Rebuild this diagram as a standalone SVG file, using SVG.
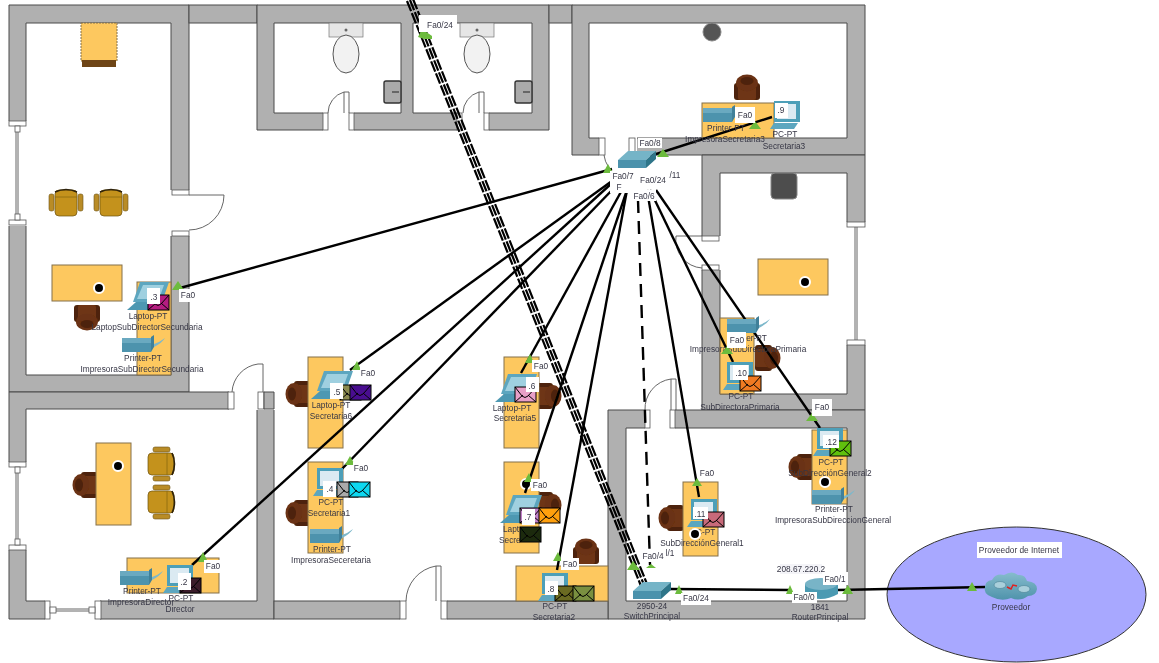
<svg xmlns="http://www.w3.org/2000/svg" width="1159" height="663" viewBox="0 0 1159 663">
<style>
text{font-family:"Liberation Sans",Arial,sans-serif;font-size:8.3px;fill:#363645;text-anchor:middle}
.wall{fill:#b0b0b0;stroke:#4a4a4a;stroke-width:1;fill-rule:evenodd}
.cut{fill:#fff;stroke:none}
.jamb{fill:#fff;stroke:#555;stroke-width:.8}
.leaf{fill:none;stroke:#555;stroke-width:.9}
.tbl{fill:#fdc85f;stroke:#84704a;stroke-width:1}
.lnk{fill:none;stroke:#000;stroke-width:2.4}
.trunk{fill:none;stroke:#000;stroke-width:2.2;stroke-dasharray:11 2}
.tri{fill:#6cbb3c}
.lb{fill:#fff}
.dot{fill:#000;stroke:#fff;stroke-width:2}
.env{stroke:#000;stroke-width:1}
.envl{fill:none;stroke:#000;stroke-width:1}
</style>
<defs>
<filter id="soft" x="0" y="0" width="100%" height="100%"><feGaussianBlur stdDeviation="0.35"/></filter>
<linearGradient id="cl" x1="0" y1="0" x2="0" y2="1"><stop offset="0" stop-color="#86bccd"/><stop offset="1" stop-color="#4f93ab"/></linearGradient>
<g id="laptop"><path d="M13 0H42L35 20H6Z" fill="#5da6bf"/><path d="M16 3H37L32 17H10Z" fill="#9fd0e0"/><path d="M0 28L9 20H35L27 28Z" fill="#4e98b2"/></g>
<g id="pc"><rect x="4" y="0" width="26" height="21" fill="#4e9fb8"/><rect x="7" y="3" width="19" height="15" fill="#dbeaf2"/><path d="M0 28L4 22H28L24 28Z" fill="#5ba6bf"/></g>
<g id="printer"><rect x="0" y="3" width="29" height="14" fill="#4e93ad"/><rect x="0" y="3" width="29" height="5" fill="#6aa9c0"/><path d="M29 2L32 0V12L29 17Z" fill="#3f8099"/><path d="M32 9Q38 7 43 3Q40 8 32 12Z" fill="#7db8cb"/></g>
<g id="switch"><path d="M0 9L10 0H38L28 9Z" fill="#74b4c7"/><path d="M0 9H28V17H0Z" fill="#4b92ac"/><path d="M28 9L38 0V8L28 17Z" fill="#2f7489"/></g>
<g id="env"><rect width="21" height="15" class="env" fill="inherit"/><path d="M0 0L7 9Q10 12 13 9L21 0M0 15L8 8M21 15L13 8" class="envl"/></g>
<g id="bch"><rect x="-13" y="-8" width="26" height="17" rx="3" fill="#4e2408"/><rect x="-9" y="-8" width="18" height="16" rx="2" fill="#6e3614"/><ellipse cx="0" cy="9" rx="11" ry="8.5" fill="#6b3212"/><ellipse cx="0" cy="11" rx="6.5" ry="4" fill="#4e2208"/></g>
<g id="gch"><rect x="-17" y="-8" width="5" height="17" rx="2" fill="#b98c28" stroke="#6b5010" stroke-width=".6"/><rect x="12" y="-8" width="5" height="17" rx="2" fill="#b98c28" stroke="#6b5010" stroke-width=".6"/><rect x="-11" y="-12" width="22" height="26" rx="4" fill="#c4921c" stroke="#6b5010" stroke-width=".7"/><path d="M-11 -5H11" stroke="#8a6a14" stroke-width=".8"/><path d="M-11 -10Q0 -15 11 -10" fill="none" stroke="#2e2208" stroke-width="1.6"/></g>
</defs>
<g filter="url(#soft)">
<rect width="1159" height="663" fill="#fff"/>
<g id="floorplan">
<path class="wall" d="M9 5H189V392H9ZM26 23H171V375H26Z"/>
<rect class="wall" x="189" y="5" width="68" height="18"/>
<path class="wall" d="M257 5H549V130H257ZM274 23H401V113H274ZM413 23H532V113H413Z"/>
<rect class="wall" x="549" y="5" width="23" height="18"/>
<path class="wall" d="M572 5H865V155H572ZM589 23H847V138H589Z"/>
<path class="wall" d="M702 155H865V410H702ZM720 173H847V394H720Z"/>
<path class="wall" d="M608 410H865V619H608ZM626 428H847V601H626Z"/>
<path class="wall" d="M9 392H274V619H9ZM26 409H257V601H26Z"/>
<rect class="wall" x="274" y="601" width="334" height="18"/>

<rect class="cut" x="8" y="121" width="19" height="105"/><rect class="jamb" x="9" y="121" width="17" height="5"/><rect class="jamb" x="9" y="220" width="17" height="5"/><rect class="jamb" x="15" y="126" width="5" height="6"/><rect class="jamb" x="15" y="214" width="5" height="6"/><path class="leaf" d="M16 132V214M18 132V214"/>
<rect class="cut" x="8" y="462" width="19" height="88"/><rect class="jamb" x="9" y="462" width="17" height="5"/><rect class="jamb" x="9" y="545" width="17" height="5"/><rect class="jamb" x="15" y="467" width="5" height="6"/><rect class="jamb" x="15" y="539" width="5" height="6"/><path class="leaf" d="M16 473V539M18 473V539"/>
<rect class="cut" x="846" y="222" width="20" height="123"/><rect class="jamb" x="847" y="222" width="18" height="5"/><rect class="jamb" x="847" y="340" width="18" height="5"/><path class="leaf" d="M855 227V340M857 227V340"/>
<rect class="cut" x="170" y="190" width="20" height="46"/><rect class="jamb" x="172" y="190" width="17" height="5"/><rect class="jamb" x="172" y="231" width="17" height="5"/><path class="leaf" d="M189 195H224A35 35 0 0 1 189 230"/>
<rect class="cut" x="45" y="600" width="55" height="20"/><rect class="jamb" x="45" y="601" width="5" height="18"/><rect class="jamb" x="95" y="601" width="6" height="18"/><rect class="jamb" x="50" y="607" width="6" height="6"/><rect class="jamb" x="89" y="607" width="6" height="6"/><path class="leaf" d="M56 609H89M56 611H89"/>
<rect class="cut" x="229" y="391" width="34" height="19"/><rect class="cut" x="256" y="391" width="19" height="19"/><rect class="jamb" x="228" y="392" width="6" height="17"/><rect class="jamb" x="258" y="392" width="6" height="17"/><path class="leaf" d="M232 392A30 30 0 0 1 258 364H263V392"/><path class="wall" d="M264 392H274V409H264Z"/>
<rect class="cut" x="400" y="600" width="47" height="20"/><rect class="jamb" x="400" y="601" width="6" height="18"/><rect class="jamb" x="441" y="601" width="6" height="18"/><path class="leaf" d="M406 601A36 36 0 0 1 436 566H441V601M436 566V601"/>
<rect class="cut" x="323" y="112" width="31" height="19"/><rect class="jamb" x="323" y="113" width="5" height="17"/><rect class="jamb" x="349" y="113" width="5" height="17"/><path class="leaf" d="M328 113A22 22 0 0 1 344 92H349V113M344 92V113"/>
<rect class="cut" x="457" y="112" width="32" height="19"/><rect class="jamb" x="457" y="113" width="5" height="17"/><rect class="jamb" x="484" y="113" width="5" height="17"/><path class="leaf" d="M463 113A22 22 0 0 1 479 92H484V113M479 92V113"/>
<rect class="cut" x="599" y="137" width="38" height="19"/><rect class="jamb" x="599" y="138" width="6" height="17"/><rect class="jamb" x="629" y="138" width="6" height="17"/><path class="leaf" d="M604 155Q605 162 608 166"/>
<rect class="cut" x="701" y="236" width="20" height="34"/><rect class="jamb" x="702" y="236" width="17" height="5"/><rect class="jamb" x="702" y="265" width="17" height="5"/><path class="leaf" d="M702 236H676A28 28 0 0 0 702 268"/>
<rect class="cut" x="645" y="409" width="30" height="20"/><rect class="jamb" x="645" y="410" width="5" height="18"/><rect class="jamb" x="670" y="410" width="5" height="18"/><path class="leaf" d="M645 410A30 30 0 0 1 671 379H676V410M671 379V410"/>

<rect x="329" y="23" width="34" height="14" fill="#e6e6e6" stroke="#777" stroke-width=".7"/><ellipse cx="346" cy="54" rx="13" ry="19" fill="#f2f2f2" stroke="#555"/><circle cx="346" cy="30" r="1.5" fill="#666"/>
<rect x="460" y="23" width="34" height="14" fill="#e6e6e6" stroke="#777" stroke-width=".7"/><ellipse cx="477" cy="54" rx="13" ry="19" fill="#f2f2f2" stroke="#555"/><circle cx="477" cy="30" r="1.5" fill="#666"/>
<rect x="384" y="81" width="17" height="22" rx="2" fill="#aaa" stroke="#333" stroke-width="1.4"/><path d="M392 92H399" stroke="#222"/>
<rect x="515" y="81" width="17" height="22" rx="2" fill="#aaa" stroke="#333" stroke-width="1.4"/><path d="M523 92H530" stroke="#222"/>
<circle cx="712" cy="32" r="9" fill="#555" stroke="#888"/>
<rect x="771" y="173" width="26" height="26" rx="4" fill="#4d4d4d" stroke="#888"/>

<rect x="81" y="23" width="36" height="38" fill="#fdc85f" stroke="#84704a" stroke-dasharray="2 1"/><rect x="82" y="60" width="34" height="7" fill="#6e4414"/>
<use href="#gch" x="66" y="202"/><use href="#gch" x="111" y="202"/>
<use href="#bch" x="87" y="313"/><rect class="tbl" x="52" y="265" width="70" height="36"/><circle class="dot" cx="99" cy="288" r="5"/>
<rect class="tbl" x="137" y="282" width="34" height="93"/>
<use href="#bch" transform="translate(90 485) rotate(90)"/><rect class="tbl" x="96" y="443" width="35" height="82"/><circle class="dot" cx="118" cy="466" r="5"/>
<use href="#gch" transform="translate(162 464) rotate(90)"/><use href="#gch" transform="translate(162 502) rotate(90)"/>
<rect class="tbl" x="127" y="558" width="92" height="35"/>
<use href="#bch" transform="translate(303 394) rotate(90)"/><rect class="tbl" x="308" y="357" width="35" height="91"/>
<use href="#bch" transform="translate(303 513) rotate(90)"/><rect class="tbl" x="308" y="462" width="35" height="91"/>
<use href="#bch" transform="translate(544 396) rotate(-90)"/><rect class="tbl" x="504" y="357" width="35" height="91"/>
<use href="#bch" transform="translate(544 505) rotate(-90)"/><rect class="tbl" x="504" y="462" width="35" height="91"/><circle class="dot" cx="526" cy="484" r="5"/>
<use href="#bch" transform="translate(586 556) rotate(180)"/><rect class="tbl" x="516" y="566" width="92" height="35"/>
<use href="#bch" transform="translate(676 518) rotate(90)"/><rect class="tbl" x="683" y="482" width="35" height="74"/>
<use href="#bch" transform="translate(806 467) rotate(90)"/><rect class="tbl" x="812" y="430" width="35" height="74"/><circle class="dot" cx="825" cy="482" r="5"/>
<use href="#bch" transform="translate(763 358) rotate(-90)"/><rect class="tbl" x="720" y="318" width="34" height="76"/>
<rect class="tbl" x="758" y="259" width="70" height="36"/><circle class="dot" cx="805" cy="282" r="5"/>
<use href="#bch" transform="translate(747 92) rotate(180)"/><rect class="tbl" x="702" y="103" width="72" height="35"/>
</g>

<g id="Internet"><ellipse cx="1016.5" cy="594.5" rx="129.5" ry="67.5" fill="#a8a8ff" stroke="#333" stroke-width="1"/><rect class="lb" x="977" y="542" width="85" height="16"/><text x="1019" y="553">Proveedor de Internet</text></g>

<g id="connectors">
<path class="trunk" d="M407 1L641 586"/><path class="trunk" d="M410 0L644 585"/><path class="trunk" d="M413 -1L647 584"/>
<path class="lnk" d="M612 169L180 288"/>
<path class="lnk" d="M650 156L772 117"/>
<path class="lnk" d="M612 181L350 370"/>
<path class="lnk" d="M612 183L192 565"/>
<path class="lnk" d="M615 187L341 470"/>
<path class="lnk" d="M622 190L521 373"/>
<path class="lnk" d="M627 190L525 493"/>
<path class="lnk" d="M627 190L557 570"/>
<path class="lnk" d="M647 190L699 497"/>
<path class="lnk" d="M650 190L733 362"/>
<path class="lnk" d="M656 190L820 428"/>
<path class="lnk" stroke-dasharray="13 8" d="M638 200L650 565"/>
<path class="lnk" d="M670 589L790 590"/>
<path class="lnk" d="M838 590L985 587"/>
</g>

<g id="LaptopSubDirectorSecundaria"><use href="#laptop" x="127" y="282"/><use href="#env" x="148" y="295" fill="#b51c80"/><rect class="lb" x="147" y="288" width="13" height="16"/><text x="154" y="300">.3</text><text x="148" y="319">Laptop-PT</text><text x="147" y="330">LaptopSubDirectorSecundaria</text></g>
<g id="ImpresoraSubDirectorSecundaria"><use href="#printer" x="122" y="335"/><text x="143" y="361">Printer-PT</text><text x="142" y="372">ImpresoraSubDirectorSecundaria</text></g>
<g id="ImpresoraDirector"><use href="#printer" x="120" y="568"/><text x="142" y="594">Printer-PT</text><text x="141" y="605">ImpresoraDirector</text></g>
<g id="Director"><use href="#pc" x="163" y="565"/><use href="#env" x="180" y="578" fill="#3a1a2a"/><rect class="lb" x="178" y="573" width="13" height="17"/><text x="184" y="585">.2</text><text x="181" y="601">PC-PT</text><text x="180" y="612">Director</text></g>
<g id="Secretaria6"><use href="#laptop" x="311" y="371"/><use href="#env" x="340" y="385" fill="#8a8a50"/><use href="#env" x="350" y="385" fill="#4a1090"/><rect class="lb" x="330" y="383" width="13" height="16"/><text x="337" y="395">.5</text><text x="331" y="408">Laptop-PT</text><text x="331" y="419">Secretaria6</text></g>
<g id="Secretaria1"><use href="#pc" x="313" y="468"/><use href="#env" x="337" y="482" fill="#aaa"/><use href="#env" x="349" y="482" fill="#10d8f0"/><rect class="lb" x="323" y="481" width="13" height="16"/><text x="330" y="492">.4</text><text x="331" y="505">PC-PT</text><text x="329" y="516">Secretaria1</text></g>
<g id="ImpresoraSeceretaria"><use href="#printer" x="310" y="526"/><text x="332" y="552">Printer-PT</text><text x="331" y="563">ImpresoraSeceretaria</text></g>
<g id="Secretaria5"><use href="#laptop" x="495" y="374"/><use href="#env" x="515" y="387" fill="#e8a0c8"/><rect class="lb" x="526" y="377" width="13" height="15"/><text x="532" y="389">.6</text><text x="512" y="411">Laptop-PT</text><text x="515" y="421">Secretaria5</text></g>
<g id="Secretaria4"><use href="#laptop" x="500" y="495"/><text x="503" y="532" style="text-anchor:start">Lapt</text><text x="499" y="543" style="text-anchor:start">Secre</text><use href="#env" x="520" y="508" fill="#c080c8"/><use href="#env" x="539" y="508" fill="#ffa010"/><use href="#env" x="520" y="527" fill="#1c2c10"/><rect class="lb" x="522" y="509" width="13" height="16"/><text x="528" y="520">.7</text></g>
<g id="Secretaria2"><use href="#pc" x="538" y="573"/><use href="#env" x="555" y="586" fill="#6b6b20"/><use href="#env" x="573" y="586" fill="#7a9040"/><rect class="lb" x="545" y="581" width="13" height="14"/><text x="551" y="592">.8</text><text x="555" y="609">PC-PT</text><text x="554" y="620">Secretaria2</text></g>
<g id="ImpresoraSecretaria3"><use href="#printer" x="703" y="105"/><text x="726" y="131">Printer-PT</text><text x="725" y="142">ImpresoraSecretaria3</text></g>
<g id="Secretaria3"><use href="#pc" x="770" y="101"/><rect class="lb" x="775" y="103" width="13" height="15"/><text x="781" y="113">.9</text><text x="785" y="137">PC-PT</text><text x="784" y="149">Secretaria3</text></g>
<g id="ImpresoraSubDirectoraPrimaria"><use href="#printer" x="727" y="316"/><text x="748" y="341">Printer-PT</text><text x="748" y="352">ImpresoraSubDirectoraPrimaria</text></g>
<g id="SubDirectoraPrimaria"><use href="#pc" x="723" y="362"/><use href="#env" x="740" y="376" fill="#f07a20"/><rect class="lb" x="733" y="365" width="15" height="15"/><text x="741" y="376">.10</text><text x="741" y="399">PC-PT</text><text x="740" y="410">SubDirectoraPrimaria</text></g>
<g id="SubDireccionGeneral1"><use href="#pc" x="687" y="499"/><use href="#env" x="703" y="512" fill="#c86a7a"/><rect class="lb" x="693" y="507" width="15" height="12"/><text x="700" y="517">.11</text><text x="703" y="535">PC-PT</text><circle class="dot" cx="695" cy="534" r="5"/><text x="702" y="546">SubDirecciónGeneral1</text></g>
<g id="SubDireccionGeneral2"><use href="#pc" x="813" y="428"/><use href="#env" x="830" y="441" fill="#60c010"/><rect class="lb" x="823" y="435" width="16" height="13"/><text x="831" y="445">.12</text><text x="831" y="465">PC-PT</text><text x="830" y="476">SubDirecciónGeneral2</text></g>
<g id="ImpresoraSubDireccionGeneral"><use href="#printer" x="812" y="487"/><text x="834" y="512">Printer-PT</text><text x="833" y="523">ImpresoraSubDireccionGeneral</text></g>
<g id="SwitchPrincipal"><use href="#switch" x="633" y="582"/><text x="652" y="609">2950-24</text><text x="652" y="619">SwitchPrincipal</text></g>
<g id="SwitchSecundario"><use href="#switch" x="618" y="151"/></g>
<g id="RouterPrincipal"><path d="M805 584V594Q820 604 838 594V584Z" fill="#4b9ab2"/><ellipse cx="821" cy="584" rx="16" ry="6" fill="#78b4c7"/><text x="820" y="610">1841</text><text x="820" y="620">RouterPrincipal</text></g>
<g id="Proveedor"><path d="M992 597Q983 594 985 587Q985 581 992 580Q996 573 1004 575Q1012 570 1018 575Q1025 574 1027 581Q1037 582 1037 589Q1036 596 1028 596Q1020 602 1011 598Q1002 602 992 597Z" fill="url(#cl)"/><ellipse cx="1000" cy="585" rx="6" ry="3.5" fill="#a9cfdb" stroke="#4b8195" stroke-width=".6"/><ellipse cx="1024" cy="589" rx="6" ry="3.5" fill="#a9cfdb" stroke="#4b8195" stroke-width=".6"/><path d="M1007 587L1011 589L1013 585L1017 586" fill="none" stroke="#e02020" stroke-width="1.5"/><text x="1011" y="610">Proveedor</text></g>

<g id="port-markers">
<path class="tri" d="M178 281L184 290H172Z"/><path class="tri" d="M755 121L761 129H749Z"/><path class="tri" d="M663 149L669 157H657Z"/><path class="tri" d="M608 164L613 173H603Z"/><path class="tri" d="M812 413L818 421H806Z"/><path class="tri" d="M727 346L733 354H721Z"/><path class="tri" d="M697 478L702 486H692Z"/><path class="tri" d="M357 361L361 370H352Z"/><path class="tri" d="M350 456L355 465H345Z"/><path class="tri" d="M530 354L534 363H525Z"/><path class="tri" d="M529 473L533 482H524Z"/><path class="tri" d="M558 552L562 561H553Z"/><path class="tri" d="M203 552L208 562H198Z"/><path class="tri" d="M418 37L422 29L432 36V39H424Z"/><path class="tri" d="M633 561L640 570H627Z"/><path class="tri" d="M651 564L656 568H646Z"/><path class="tri" d="M679 585L683 594H675Z"/><path class="tri" d="M790 585L794 594H786Z"/><path class="tri" d="M848 585L853 594H842Z"/><path class="tri" d="M972 582L977 591H967Z"/>
</g>
<g id="port-labels">
<rect class="lb" x="179" y="289" width="17" height="13"/><text x="188" y="298">Fa0</text>
<rect class="lb" x="638" y="138" width="24" height="10"/><text x="650" y="146">Fa0/8</text>
<rect class="lb" x="610" y="171" width="25" height="22"/><text x="623" y="179">Fa0/7</text><text x="619" y="190">F</text>
<rect class="lb" x="638" y="174" width="30" height="11"/><text x="653" y="183">Fa0/24</text><text x="675" y="178">/11</text>
<rect class="lb" x="630" y="190" width="26" height="11"/><text x="644" y="199">Fa0/6</text>
<rect class="lb" x="419" y="15" width="38" height="17"/><text x="440" y="28">Fa0/24</text>
<rect class="lb" x="735" y="107" width="20" height="16"/><text x="745" y="118">Fa0</text>
<rect class="lb" x="727" y="332" width="19" height="16"/><text x="737" y="343">Fa0</text>
<rect class="lb" x="812" y="399" width="20" height="17"/><text x="822" y="410">Fa0</text>
<rect class="lb" x="698" y="467" width="18" height="12"/><text x="707" y="476">Fa0</text>
<rect class="lb" x="360" y="367" width="17" height="12"/><text x="368" y="376">Fa0</text>
<rect class="lb" x="353" y="462" width="17" height="12"/><text x="361" y="471">Fa0</text>
<rect class="lb" x="532" y="360" width="18" height="12"/><text x="541" y="369">Fa0</text>
<rect class="lb" x="531" y="479" width="18" height="12"/><text x="540" y="488">Fa0</text>
<rect class="lb" x="561" y="558" width="18" height="12"/><text x="570" y="567">Fa0</text>
<rect class="lb" x="204" y="560" width="18" height="13"/><text x="213" y="569">Fa0</text>
<rect class="lb" x="642" y="551" width="24" height="11"/><text x="653" y="559">Fa0/4</text><text x="670" y="556">l/1</text>
<rect class="lb" x="681" y="593" width="30" height="12"/><text x="696" y="601">Fa0/24</text>
<rect class="lb" x="792" y="592" width="25" height="11"/><text x="804" y="600">Fa0/0</text>
<rect class="lb" x="823" y="572" width="25" height="13"/><text x="835" y="582">Fa0/1</text>
<rect x="780" y="564" width="42" height="10" fill="#f4f4f8"/><text x="801" y="572">208.67.220.2</text>
</g>
</g>
</svg>
